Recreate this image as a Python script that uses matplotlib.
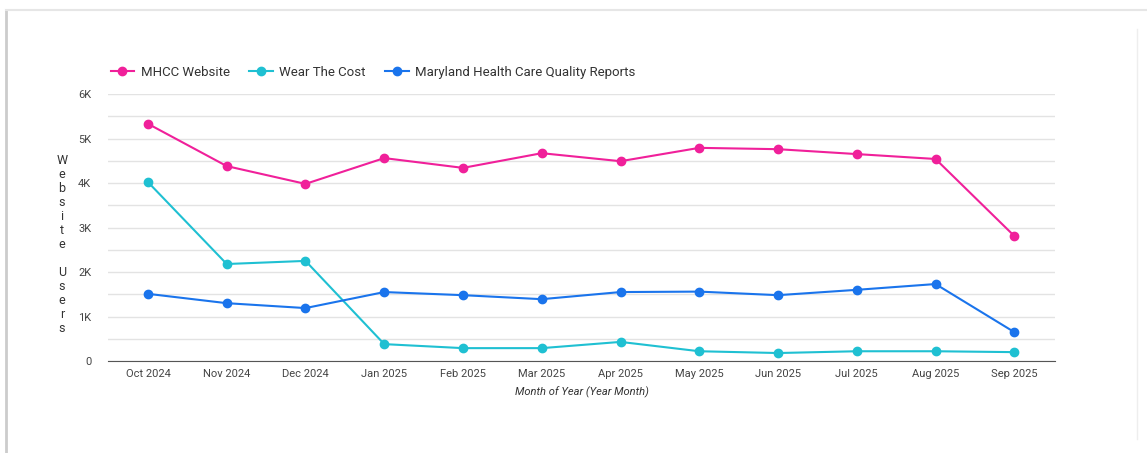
import matplotlib.pyplot as plt
from matplotlib.lines import Line2D

plt.rcParams['font.family'] = ['Roboto', 'DejaVu Sans']

months = ['Oct 2024', 'Nov 2024', 'Dec 2024', 'Jan 2025', 'Feb 2025', 'Mar 2025',
          'Apr 2025', 'May 2025', 'Jun 2025', 'Jul 2025', 'Aug 2025', 'Sep 2025']

# users per month
mhcc = [5330, 4380, 3980, 4560, 4340, 4670, 4490, 4790, 4760, 4650, 4540, 2810]
wear_cost = [4020, 2180, 2250, 380, 290, 290, 430, 220, 180, 220, 220, 200]
quality_reports = [1510, 1300, 1190, 1550, 1480, 1390, 1550, 1560, 1480, 1600, 1730, 650]

series_names = ['MHCC Website', 'Wear The Cost', 'Maryland Health Care Quality Reports']
colors = ['#f0209a', '#1fc0d2', '#1a74ec']

fig = plt.figure(figsize=(11.47, 4.53), dpi=100)
ax = fig.add_axes([0.094, 0.203, 0.826, 0.5895])

x = list(range(len(months)))
for vals, name, c in zip([mhcc, wear_cost, quality_reports], series_names, colors):
    ax.plot(x, vals, color=c, lw=1.5, marker='o', ms=6, label=name)

ax.set_xlim(-0.51, 11.52)
ax.set_ylim(0, 6000)
ax.set_xticks(x)
ax.set_xticklabels(months, fontsize=8, color='#444444')
ax.set_yticks(range(0, 6001, 1000))
ax.set_yticklabels(['0', '1K', '2K', '3K', '4K', '5K', '6K'], fontsize=8, color='#444444')
ax.set_yticks(range(500, 6000, 1000), minor=True)
ax.tick_params(length=0, which='both', pad=6)
ax.tick_params(axis='y', pad=12)
ax.grid(axis='y', which='both', color='#e3e3e3', lw=1)
ax.set_axisbelow(True)
for s in ['top', 'right', 'left']:
    ax.spines[s].set_visible(False)
ax.spines['bottom'].set_color('#555555')
ax.set_xlabel('Month of Year (Year Month)', fontsize=8, style='italic', color='#333333', labelpad=5)

fig.text(0.054, 0.46, '\n'.join('Website Users'), fontsize=9, color='#333333',
         ha='center', va='center', linespacing=1.1)

handles = [Line2D([0], [0], color=c, lw=1.5, marker='o', ms=6) for c in colors]
fig.legend(handles, series_names, loc='center left', bbox_to_anchor=(0.086, 0.841),
           ncol=3, frameon=False, fontsize=9.5, handlelength=1.8, handletextpad=0.5,
           columnspacing=1.45, labelcolor='#333333')

# card border from the screenshot
fig.add_artist(Line2D([0.005, 0.005], [0.0, 0.978], color='#cccccc', lw=2))
fig.add_artist(Line2D([0.005, 1.0], [0.978, 0.978], color='#e6e6e6', lw=1.5))
fig.add_artist(Line2D([0.991, 0.991], [0.03, 0.935], color='#eeeeee', lw=1))

fig.savefig('out.png')
